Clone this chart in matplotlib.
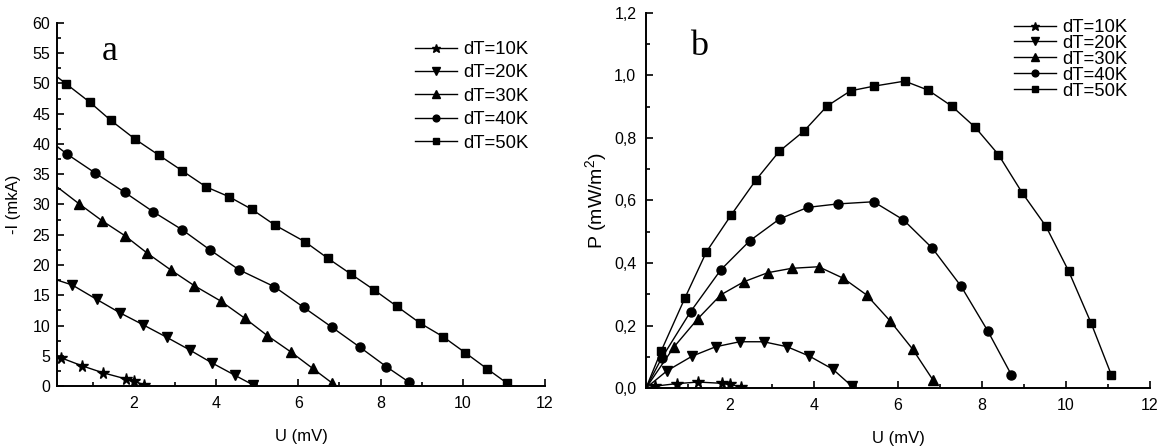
"""I-V and P-V curves of the cell for five temperature differences."""

import numpy as np
import matplotlib.pyplot as plt
from matplotlib.ticker import MultipleLocator, FixedLocator, FuncFormatter

plt.rcParams["font.family"] = ["Liberation Sans", "DejaVu Sans"]
plt.rcParams["mathtext.fontset"] = "custom"
plt.rcParams["mathtext.rm"] = "Liberation Sans"


# ── Data ─────────────────────────────────────────────────────────────────────

labels = ["dT=10K", "dT=20K", "dT=30K", "dT=40K", "dT=50K"]
markers = ["*", "v", "^", "o", "s"]

u_10 = [0, 0.22, 0.73, 1.24, 1.81, 2.00, 2.25]
i_10 = [5.0, 4.68, 3.36, 2.2, 1.16, 0.83, 0.17]
p_10 = [0, 0.006, 0.014, 0.019, 0.015, 0.012, 0.003]

u_20 = [0, 0.50, 1.10, 1.66, 2.23, 2.80, 3.36, 3.89, 4.45, 4.90]
i_20 = [17.8, 16.7, 14.3, 12.1, 10.1, 8.05, 5.95, 3.85, 1.8, 0.17]
p_20 = [0, 0.055, 0.102, 0.132, 0.148, 0.148, 0.132, 0.102, 0.060, 0.006]

u_30 = [0, 0.67, 1.23, 1.78, 2.33, 2.90, 3.47, 4.11, 4.70, 5.25, 5.81, 6.35, 6.83]
i_30 = [33.6, 30.1, 27.3, 24.85, 21.93, 19.17, 16.58, 14.05, 11.19, 8.31, 5.67, 2.9, 0.45]
p_30 = [0, 0.132, 0.221, 0.298, 0.340, 0.369, 0.383, 0.388, 0.351, 0.298, 0.215, 0.124, 0.026]

u_40 = [0, 0.37, 1.06, 1.78, 2.47, 3.18, 3.85, 4.56, 5.42, 6.13, 6.82, 7.50, 8.14, 8.70]
i_40 = [40.3, 38.35, 35.2, 32.0, 28.8, 25.8, 22.5, 19.2, 16.4, 13.0, 9.7, 6.4, 3.2, 0.6]
p_40 = [0, 0.095, 0.244, 0.378, 0.471, 0.541, 0.578, 0.589, 0.596, 0.538, 0.447, 0.326, 0.182, 0.042]

u_50 = [0, 0.36, 0.93, 1.44, 2.03, 2.62, 3.17, 3.76, 4.31, 4.87, 5.43, 6.16, 6.72, 7.28,
        7.84, 8.39, 8.96, 9.52, 10.06, 10.60, 11.08]
i_50 = [51.8, 49.9, 46.9, 43.9, 40.8, 38.1, 35.6, 32.9, 31.3, 29.2, 26.6, 23.85, 21.1, 18.5,
        15.9, 13.2, 10.4, 8.15, 5.5, 2.8, 0.45]
p_50 = [0, 0.118, 0.289, 0.436, 0.554, 0.666, 0.757, 0.822, 0.902, 0.951, 0.966, 0.982, 0.953,
        0.902, 0.834, 0.747, 0.624, 0.518, 0.375, 0.207, 0.042]

voltages = [u_10, u_20, u_30, u_40, u_50]
currents = [i_10, i_20, i_30, i_40, i_50]
powers = [p_10, p_20, p_30, p_40, p_50]

marker_sizes = {"*": 8.5, "v": 7, "^": 7, "o": 6.5, "s": 6}


# ── Helpers ───────────────────────────────────────────────────────────────────

def style_axes(ax):
    for side in ("top", "right"):
        ax.spines[side].set_visible(False)
    for side in ("left", "bottom"):
        ax.spines[side].set_linewidth(1.4)
    ax.tick_params(which="both", direction="in", width=1.2, labelsize=11.5)
    ax.tick_params(which="major", length=5)
    ax.tick_params(which="minor", length=3)
    ax.xaxis.set_major_locator(FixedLocator([2, 4, 6, 8, 10, 12]))
    ax.xaxis.set_minor_locator(MultipleLocator(1))
    ax.tick_params(axis="x", pad=7)


def draw_series(ax, ys_list):
    for u, ys, m, lab in zip(voltages, ys_list, markers, labels):
        ax.plot(u, ys, color="black", linewidth=1.0, marker=m,
                markersize=marker_sizes[m], markevery=slice(1, None),
                label=lab, clip_on=True)


def px_to_fig(x, y):
    return x / 1162, 1 - y / 447


def add_legend(ax, top_left, spacing):
    ax.legend(loc="upper left", bbox_to_anchor=px_to_fig(*top_left),
              bbox_transform=ax.figure.transFigure, frameon=False, fontsize=13.3,
              borderpad=0, borderaxespad=0, handlelength=2.3, handletextpad=0.3,
              labelspacing=spacing, markerscale=0.75)


# ── Figure ────────────────────────────────────────────────────────────────────

fig = plt.figure(figsize=(11.62, 4.47), dpi=100)

ax_i = fig.add_axes([57 / 1162, 61 / 447, 488 / 1162, 363 / 447])
ax_p = fig.add_axes([646 / 1162, 59 / 447, 504 / 1162, 375 / 447])

# left: current
draw_series(ax_i, currents)
style_axes(ax_i)
ax_i.set_xlim(0.13, 12)
ax_i.set_ylim(0, 60)
ax_i.yaxis.set_major_locator(MultipleLocator(5))
ax_i.yaxis.set_minor_locator(MultipleLocator(2.5))
ax_i.tick_params(axis="y", pad=5)
ax_i.set_xlabel("U (mV)", fontsize=12, labelpad=13)
ax_i.set_ylabel("-I (mkA)", fontsize=12, labelpad=8)
ax_i.text(1.42, 53.9, "a", family=["Liberation Serif", "DejaVu Serif"],
          fontsize=26, ha="center", va="baseline")
add_legend(ax_i, (415, 41), 0.35)

# right: power
draw_series(ax_p, powers)
style_axes(ax_p)
ax_p.set_xlim(0, 12)
ax_p.set_ylim(0, 1.2)
ax_p.yaxis.set_major_locator(MultipleLocator(0.2))
ax_p.yaxis.set_minor_locator(MultipleLocator(0.1))
ax_p.yaxis.set_major_formatter(FuncFormatter(lambda v, _: f"{v:.1f}".replace(".", ",")))
ax_p.tick_params(axis="y", pad=7)
ax_p.set_xlabel("U (mV)", fontsize=12, labelpad=13)
ax_p.set_ylabel("P (mW/m$^2$)", fontsize=14, labelpad=3)
ax_p.text(1.26, 1.066, "b", family=["Liberation Serif", "DejaVu Serif"],
          fontsize=26, ha="center", va="baseline")
add_legend(ax_p, (1014, 19), -0.06)

fig.savefig("out.png", dpi=100)
